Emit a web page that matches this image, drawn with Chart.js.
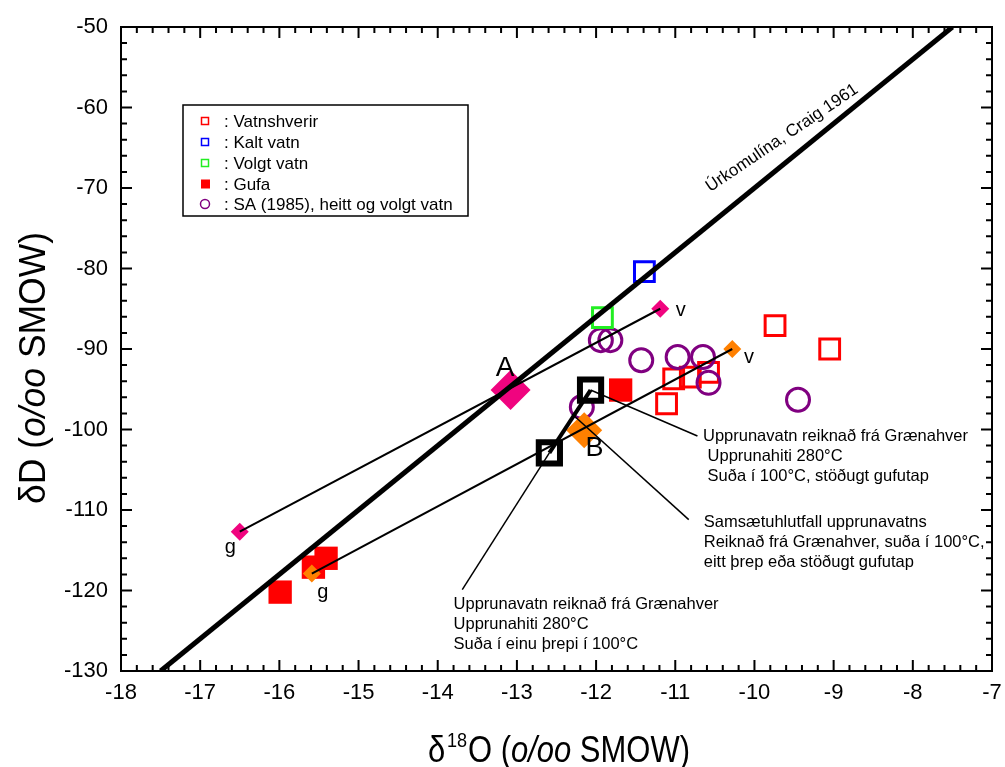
<!DOCTYPE html>
<html>
<head>
<meta charset="utf-8">
<script src="https://cdn.jsdelivr.net/npm/chart.js@4/dist/chart.umd.min.js"></script>
<style>
html,body{margin:0;padding:0;background:#fff;}
#wrap{width:1005px;height:767px;}
</style>
</head>
<body>
<div id="wrap"><canvas id="c" width="1005" height="767"></canvas></div>
<script>
// ---------- data ----------
const xTickValues = [-18,-17,-16,-15,-14,-13,-12,-11,-10,-9,-8,-7];
const yTickValues = [-130,-120,-110,-100,-90,-80,-70,-60,-50];

const vatnshverirX = [-9.74, -9.05, -11.02, -10.81, -10.58, -11.11];
const vatnshverirY = [-87.1, -90.0, -93.7, -93.5, -92.9, -96.8];
const kaltX = [-11.39];
const kaltY = [-80.4];
const volgtX = [-11.92];
const volgtY = [-86.1];
const gufaX = [-11.69, -15.99, -15.57, -15.41];
const gufaY = [-95.1, -120.2, -117.1, -116.0];
const saX = [-11.94, -11.82, -11.43, -10.97, -10.65, -10.58, -9.45, -12.18];
const saY = [-88.9, -88.9, -91.4, -91.0, -91.0, -94.2, -96.3, -97.2];

const craigX = [-17.5, -7.5];
const craigY = [-130, -50];

const pinkLineX = [-16.5, -11.19];
const pinkLineY = [-112.7, -85.0];
const pinkAX = [-13.08];
const pinkAY = [-95.1];

const orangeLineX = [-15.59, -10.28];
const orangeLineY = [-117.9, -90.0];
const orangeBX = [-12.15];
const orangeBY = [-100.1];

const upprunaX = [-12.07, -12.59];
const upprunaY = [-95.1, -102.9];

const leader1X = [-12.07, -10.72], leader1Y = [-95.1, -100.8];
const leader2X = [-12.30, -10.83], leader2Y = [-98.1, -111.2];
const leader3X = [-12.59, -13.69], leader3Y = [-102.9, -119.9];

const legendLabels = [': Vatnshverir', ': Kalt vatn', ': Volgt vatn', ': Gufa', ': SA (1985), heitt og volgt vatn'];

function pts(xs, ys){ return xs.map((x,i)=>({x:x, y:ys[i]})); }

// ---------- colours ----------
const RED='#ff0000', BLUE='#0000ff', GREEN='#22ee22', PURPLE='#800080', PINK='#f0047f', ORANGE='#ff8000';
const FONT = '"Liberation Sans", Arial, sans-serif';

function lineDs(xs, ys, w, order){
  return {type:'line', data:pts(xs,ys), borderColor:'#000', borderWidth:w, pointRadius:0, showLine:true, fill:false, order:order, tension:0};
}
function markDs(xs, ys, style, r, stroke, fill, bw, order){
  return {type:'scatter', data:pts(xs,ys), pointStyle:style, pointRadius:r, pointHoverRadius:r,
    borderColor:stroke, backgroundColor:fill, pointBorderWidth:bw, borderWidth:bw, order:order};
}

const datasets = [
  lineDs(craigX, craigY, 5, 1),
  lineDs(pinkLineX, pinkLineY, 2, 2),
  lineDs(orangeLineX, orangeLineY, 2, 2),
  lineDs(upprunaX, upprunaY, 4, 1),
  lineDs(leader1X, leader1Y, 1.5, 1),
  lineDs(leader2X, leader2Y, 1.5, 1),
  lineDs(leader3X, leader3Y, 1.5, 1),
  markDs(upprunaX, upprunaY, 'rect', 15, '#000', '#fff', 6, 3),
  markDs(orangeBX, orangeBY, 'rectRot', 18, ORANGE, ORANGE, 0, 4),
  markDs([orangeLineX[0], orangeLineX[1]], [orangeLineY[0], orangeLineY[1]], 'rectRot', 9, ORANGE, ORANGE, 0, 4),
  markDs(pinkAX, pinkAY, 'rectRot', 20, PINK, PINK, 0, 5),
  markDs([pinkLineX[0], pinkLineX[1]], [pinkLineY[0], pinkLineY[1]], 'rectRot', 9, PINK, PINK, 0, 5),
  markDs(gufaX, gufaY, 'rect', 16.5, RED, RED, 0, 6),
  markDs(kaltX, kaltY, 'rect', 14, BLUE, 'rgba(0,0,0,0)', 3, 6),
  markDs(volgtX, volgtY, 'rect', 14, GREEN, 'rgba(0,0,0,0)', 3, 6),
  markDs(saX, saY, 'circle', 11.5, PURPLE, 'rgba(0,0,0,0)', 3, 7),
  markDs(vatnshverirX, vatnshverirY, 'rect', 14, RED, 'rgba(0,0,0,0)', 3, 8)
];

// annotation text (data coordinates of anchor)
const notes = [
  {x:-10.65, y:-100.9, lines:['Upprunavatn reiknað frá Grænahver',' Upprunahiti 280°C',' Suða í 100°C, stöðugt gufutap']},
  {x:-10.64, y:-111.6, lines:['Samsætuhlutfall upprunavatns','Reiknað frá Grænahver, suða í 100°C,','eitt þrep eða stöðugt gufutap']},
  {x:-13.80, y:-121.7, lines:['Upprunavatn reiknað frá Grænahver','Upprunahiti 280°C','Suða í einu þrepi í 100°C']}
];
const bigLabels = [
  {t:'A', x:-13.15, y:-92.4, size:28},
  {t:'B', x:-12.02, y:-102.4, size:27},
  {t:'v', x:-10.93, y:-85.2, size:20},
  {t:'v', x:-10.07, y:-91.0, size:20},
  {t:'g', x:-16.62, y:-114.7, size:20},
  {t:'g', x:-15.45, y:-120.3, size:20}
];

const decor = {
  id:'decor',
  afterDatasetsDraw(chart){
    const ctx = chart.ctx, xs = chart.scales.x, ys = chart.scales.y, a = chart.chartArea;
    ctx.save();
    // frame
    ctx.strokeStyle = '#000'; ctx.lineWidth = 2;
    ctx.strokeRect(a.left, a.top, a.right - a.left, a.bottom - a.top);
    // ticks
    ctx.lineWidth = 2;
    ctx.beginPath();
    for (let i = -90; i <= -35; i++) { // x in 0.2 steps
      const v = i / 5; const px = xs.getPixelForValue(v);
      const L = (i % 5 === 0) ? 11 : 6;
      ctx.moveTo(px, a.bottom); ctx.lineTo(px, a.bottom - L);
      ctx.moveTo(px, a.top); ctx.lineTo(px, a.top + L);
    }
    for (let v = -130; v <= -50; v += 2) {
      const py = ys.getPixelForValue(v);
      const L = (v % 10 === 0) ? 11 : 6;
      ctx.moveTo(a.left, py); ctx.lineTo(a.left + L, py);
      ctx.moveTo(a.right, py); ctx.lineTo(a.right - L, py);
    }
    ctx.stroke();

    // legend
    const lx = 183, ly = 105, lw = 285, lh = 111;
    ctx.fillStyle = '#fff'; ctx.fillRect(lx, ly, lw, lh);
    ctx.lineWidth = 1.5; ctx.strokeStyle = '#000'; ctx.strokeRect(lx, ly, lw, lh);
    const rows = [121, 142, 163, 184, 204];
    const styles = [
      {c:RED, f:false, s:'rect'}, {c:BLUE, f:false, s:'rect'}, {c:GREEN, f:false, s:'rect'},
      {c:RED, f:true, s:'rect'}, {c:PURPLE, f:false, s:'circle'}
    ];
    ctx.font = '17px ' + FONT; ctx.textBaseline = 'middle'; ctx.textAlign = 'left';
    rows.forEach((ry, i) => {
      const st = styles[i];
      ctx.lineWidth = 1.5;
      if (st.s === 'rect') {
        if (st.f) { ctx.fillStyle = st.c; ctx.fillRect(201, ry - 4.5, 9, 9); }
        else { ctx.strokeStyle = st.c; ctx.strokeRect(201.5, ry - 3.5, 7, 7); }
      } else {
        ctx.strokeStyle = st.c; ctx.beginPath(); ctx.arc(205, ry, 4.5, 0, Math.PI * 2); ctx.stroke();
      }
      ctx.fillStyle = '#000';
      ctx.fillText(legendLabels[i], 224, ry + 1);
    });

    // annotation texts
    ctx.fillStyle = '#000';
    ctx.font = '16.5px ' + FONT; ctx.textBaseline = 'middle'; ctx.textAlign = 'left';
    notes.forEach(n => {
      const px = xs.getPixelForValue(n.x), py = ys.getPixelForValue(n.y);
      n.lines.forEach((t, k) => ctx.fillText(t, px, py + k * 20));
    });
    ctx.textAlign = 'center';
    bigLabels.forEach(b => {
      ctx.font = b.size + 'px ' + FONT;
      ctx.fillText(b.t, xs.getPixelForValue(b.x), ys.getPixelForValue(b.y));
    });

    // Craig label
    ctx.save();
    ctx.translate(xs.getPixelForValue(-9.65), ys.getPixelForValue(-63.8));
    ctx.rotate(-34 * Math.PI / 180);
    ctx.font = '17px ' + FONT; ctx.textAlign = 'center'; ctx.textBaseline = 'middle';
    ctx.fillText('Úrkomulína, Craig 1961', 0, 0);
    ctx.restore();

    // axis titles
    function drawPieces(pieces, x0, y0){
      let x = x0;
      pieces.forEach(p => {
        ctx.font = p.f;
        ctx.fillText(p.t, x, y0 + (p.dy || 0));
        x += ctx.measureText(p.t).width + (p.gap || 0);
      });
    }
    function widthOf(pieces){
      let w = 0; pieces.forEach(p => { ctx.font = p.f; w += ctx.measureText(p.t).width + (p.gap || 0); }); return w;
    }
    const TF = '36px ' + FONT, TI = 'italic 36px ' + FONT;
    ctx.textAlign = 'left'; ctx.textBaseline = 'alphabetic';
    const yt = [{t:'δD (', f:TF}, {t:'o/oo', f:TI}, {t:' SMOW)', f:TF}];
    ctx.save();
    ctx.translate(45, 368);
    ctx.rotate(-Math.PI / 2);
    let sy = 272 / widthOf(yt);
    ctx.scale(sy, 1);
    drawPieces(yt, -widthOf(yt) / 2, 0);
    ctx.restore();
    const xt = [{t:'δ', f:TF, gap:2}, {t:'18', f:'21px ' + FONT, dy:-15, gap:1}, {t:'O (', f:TF}, {t:'o/oo', f:TI}, {t:' SMOW)', f:TF}];
    ctx.save();
    ctx.translate(559, 762);
    let sx = 262 / widthOf(xt);
    ctx.scale(sx, 1);
    drawPieces(xt, -widthOf(xt) / 2, 0);
    ctx.restore();
    ctx.restore();
  }
};

new Chart(document.getElementById('c'), {
  type: 'scatter',
  data: { datasets: datasets },
  options: {
    responsive: false,
    animation: false,
    devicePixelRatio: 1,
    layout: { autoPadding: false, padding: { top: 27, right: 13, left: 0, bottom: 0 } },
    plugins: { legend: { display: false }, tooltip: { enabled: false } },
    scales: {
      x: {
        type: 'linear', min: -18, max: -7,
        afterBuildTicks: s => { s.ticks = xTickValues.map(v => ({value: v})); },
        afterFit: s => { s.height = 96; s.paddingLeft = 0; s.paddingRight = 0; },
        grid: { display: false, drawTicks: false, tickLength: 0 }, border: { display: false },
        ticks: { color: '#000', font: { family: FONT, size: 22 }, padding: 9, maxRotation: 0, autoSkip: false }
      },
      y: {
        type: 'linear', min: -130, max: -50,
        afterBuildTicks: s => { s.ticks = yTickValues.map(v => ({value: v})); },
        afterFit: s => { s.width = 121; s.paddingTop = 0; s.paddingBottom = 0; },
        grid: { display: false, drawTicks: false, tickLength: 0 }, border: { display: false },
        ticks: { color: '#000', font: { family: FONT, size: 22 }, padding: 13, autoSkip: false }
      }
    }
  },
  plugins: [decor]
});
</script>
</body>
</html>
